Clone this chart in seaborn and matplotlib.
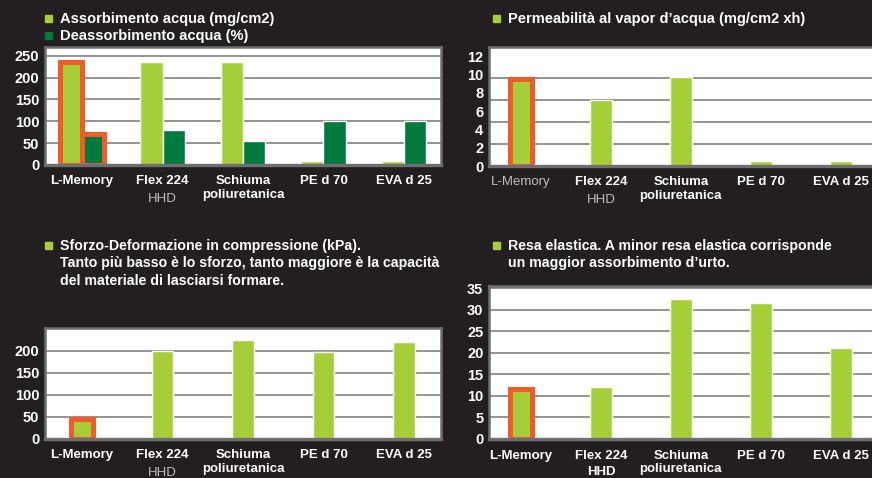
import matplotlib
matplotlib.use("Agg")
import matplotlib.pyplot as plt
import pandas as pd
import seaborn as sns

# ---------------------------------------------------------------------------
# dati
# ---------------------------------------------------------------------------
materiali = ["L-Memory", "Flex 224", "Schiuma\npoliuretanica", "PE d 70", "EVA d 25"]

assorbimento = [236, 236, 236, 10, 10]        # mg/cm2
deassorbimento = [70, 80, 55, 100, 100]       # %
permeabilita = [9.5, 7.2, 9.7, 0.5, 0.5]      # mg/cm2 xh
sforzo = [45, 200, 225, 197, 220]             # kPa
resa = [11.5, 12, 32.5, 31.5, 21]

serie_1 = ["Assorbimento acqua (mg/cm2)", "Deassorbimento acqua (%)"]
titolo_2 = "Permeabilità al vapor d’acqua (mg/cm2 xh)"
titolo_3 = ("Sforzo-Deformazione in compressione (kPa).\n"
            "Tanto più basso è lo sforzo, tanto maggiore è la capacità\n"
            "del materiale di lasciarsi formare.")
titolo_4 = ("Resa elastica. A minor resa elastica corrisponde\n"
            "un maggior assorbimento d’urto.")

ticks_1 = [0, 50, 100, 150, 200, 250]
ticks_2 = [0, 2, 4, 6, 8, 10, 12]
grid_2 = [2.4, 4.8, 7.2, 9.6, 12]
ticks_3 = [0, 50, 100, 150, 200]
ticks_4 = [0, 5, 10, 15, 20, 25, 30, 35]

# ---------------------------------------------------------------------------
# stile
# ---------------------------------------------------------------------------
BG = "#231f20"
VERDE = "#a6ce39"
VERDE_SCURO = "#007a3d"
ARANCIO = "#f15a29"
GRIGLIA = "#8a8a8a"
BORDO = "#6d6e71"
GRIGIO_TXT = "#bcbec0"

W, H = 872, 478

sns.set_theme(style="white")
plt.rcParams["font.family"] = ["Liberation Sans", "DejaVu Sans"]


def fx(x):
    return x / W


def fy(y):
    return 1 - y / H


def make_axes(fig, left, top, right, bottom):
    ax = fig.add_axes([fx(left), fy(bottom), fx(right - left), (bottom - top) / H])
    ax.set_facecolor("white")
    for s in ax.spines.values():
        s.set_color(BORDO)
        s.set_linewidth(1.8)
    ax.spines["bottom"].set_linewidth(2.4)
    ax.set_axisbelow(True)
    ax.tick_params(axis="both", length=0, colors="white")
    ax.tick_params(axis="y", pad=4, labelsize=10.5)
    ax.tick_params(axis="x", pad=7, labelsize=9.5)
    return ax


def style_axes(ax, yticks, ylim, xlim, grid_at=None):
    ax.set_xlim(*xlim)
    ax.set_ylim(*ylim)
    ax.set_xlabel("")
    ax.set_ylabel("")
    ax.set_yticks(yticks)
    ax.set_yticklabels([str(t) for t in yticks], fontweight="bold", color="white")
    ax.set_xticks(range(len(materiali)))
    ax.set_xticklabels(materiali, fontweight="bold", color="white", linespacing=1.2)
    if grid_at is None:
        ax.yaxis.grid(True, color=GRIGLIA, linewidth=1.3)
    else:
        ax.set_yticks(grid_at, minor=True)
        ax.yaxis.grid(True, which="minor", color=GRIGLIA, linewidth=1.3)
        ax.yaxis.grid(False, which="major")
        ax.tick_params(axis="y", which="minor", length=0)
    ax.xaxis.grid(False)


def evidenzia(ax):
    # cornice arancione sulle barre L-Memory
    for p in ax.patches:
        c = p.get_x() + p.get_width() / 2
        if c < 0.5 and p.get_height() > 0:
            p.set_edgecolor(ARANCIO)
            p.set_linewidth(3.6)


def sotto_etichetta(ax, x, testo, offset, **kw):
    ax.annotate(testo, xy=(x, 0), xycoords=("data", "axes fraction"),
                xytext=(0, -offset), textcoords="offset points",
                ha="center", va="top", fontsize=9.5, annotation_clip=False, **kw)


def legenda(fig, x, y, colore, testo, size=10.5):
    # quadratino + testo, y = centro della prima riga (pixel)
    fig.add_artist(plt.Rectangle((fx(x), fy(y + 3.5)), fx(7), 7 / H,
                                 transform=fig.transFigure, color=colore))
    fig.text(fx(x + 15), fy(y - 6), testo, color="white", fontsize=size,
             fontweight="bold", va="top", ha="left", linespacing=1.3)


fig = plt.figure(figsize=(W / 100, H / 100), dpi=100)
fig.patch.set_facecolor(BG)

# --- 1: assorbimento / deassorbimento ---------------------------------------
df1 = pd.DataFrame({
    "materiale": materiali * 2,
    "serie": [serie_1[0]] * 5 + [serie_1[1]] * 5,
    "valore": assorbimento + deassorbimento,
})
ax1 = make_axes(fig, 45, 47, 441, 165)
sns.barplot(data=df1, x="materiale", y="valore", hue="serie",
            palette=[VERDE, VERDE_SCURO], width=0.55, saturation=1,
            legend=False, ax=ax1)
style_axes(ax1, ticks_1, (0, 270), (-0.46, 4.46))
evidenzia(ax1)
sotto_etichetta(ax1, 1, "HHD", 20, color=GRIGIO_TXT)
legenda(fig, 45, 18, VERDE, serie_1[0])
legenda(fig, 45, 35, VERDE_SCURO, serie_1[1])

# --- 2: permeabilita ---------------------------------------------------------
ax2 = make_axes(fig, 489, 47, 880, 166)
sns.barplot(x=list(range(5)), y=permeabilita, color=VERDE, width=0.27,
            saturation=1, ax=ax2)
style_axes(ax2, ticks_2, (0, 13), (-0.4, 4.49), grid_at=grid_2)
ax2.spines["right"].set_visible(False)
evidenzia(ax2)
lab = ax2.get_xticklabels()[0]
lab.set_color(GRIGIO_TXT)
lab.set_fontweight("normal")
sotto_etichetta(ax2, 1, "HHD", 20, color=GRIGIO_TXT)
legenda(fig, 493, 18, VERDE, titolo_2)

# --- 3: sforzo-deformazione -------------------------------------------------
ax3 = make_axes(fig, 45, 328, 441, 439)
sns.barplot(x=list(range(5)), y=sforzo, color=VERDE, width=0.27,
            saturation=1, ax=ax3)
style_axes(ax3, ticks_3, (0, 252), (-0.46, 4.46))
evidenzia(ax3)
sotto_etichetta(ax3, 1, "HHD", 20, color=GRIGIO_TXT)
legenda(fig, 45, 245, VERDE, titolo_3, size=10.2)

# --- 4: resa elastica --------------------------------------------------------
ax4 = make_axes(fig, 489, 286, 880, 439)
sns.barplot(x=list(range(5)), y=resa, color=VERDE, width=0.27,
            saturation=1, ax=ax4)
style_axes(ax4, ticks_4, (0, 35.5), (-0.4, 4.49))
ax4.spines["right"].set_visible(False)
evidenzia(ax4)
ax4.tick_params(axis="x", pad=8)
ax4.set_xticklabels(materiali, fontweight="bold", color="white", linespacing=1.05)
sotto_etichetta(ax4, 1, "HHD", 19.5, color="white", fontweight="bold")
legenda(fig, 493, 245, VERDE, titolo_4, size=10.2)

fig.savefig("out.png", dpi=100, facecolor=BG)
